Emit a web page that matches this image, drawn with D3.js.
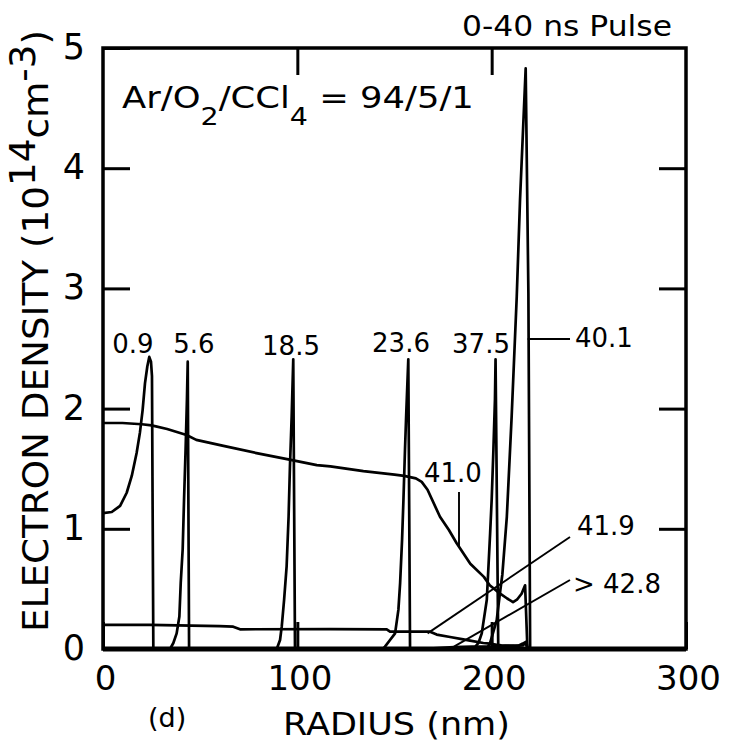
<!DOCTYPE html>
<html><head><meta charset="utf-8">
<script src="https://cdn.jsdelivr.net/npm/d3@7"></script>
<style>
body{margin:0;background:#fff}
svg{display:block}
text{font-family:"DejaVu Sans",sans-serif;fill:#000}
</style>
</head><body>
<svg id="chart" width="730" height="750"></svg>
<script>
// ---------- data ----------
const xTickValues = [0, 100, 200, 300];
const yTickValues = [0, 1, 2, 3, 4, 5];
const timeLabels = ["0.9", "5.6", "18.5", "23.6", "37.5", "40.1", "41.0", "41.9", "> 42.8"];

const radius09  = [0, 4.5, 8.8, 12.2, 14.8, 17.3, 19.0, 20.4, 21.6, 22.8, 23.8, 24.7, 25.2, 25.9];
const density09 = [1.13, 1.14, 1.19, 1.30, 1.44, 1.63, 1.80, 1.99, 2.21, 2.35, 2.43, 2.39, 2.27, 0];

const radius56  = [34.5, 36.2, 37.9, 39.3, 40.0, 41.0, 41.7, 42.5, 43.2, 43.6, 44.3];
const density56 = [0, 0.05, 0.13, 0.27, 0.55, 0.83, 1.24, 1.66, 2.08, 2.39, 0];

const radius185  = [89.4, 91.1, 92.0, 93.2, 94.5, 95.5, 96.2, 97.1, 97.9, 98.8];
const density185 = [0, 0.075, 0.19, 0.41, 0.69, 1.10, 1.52, 1.94, 2.41, 0];

const radius236  = [144, 145.1, 147.7, 150.3, 152.0, 152.9, 153.9, 154.6, 155.4, 156.0, 157.1, 158.0];
const density236 = [0, 0.02, 0.075, 0.13, 0.325, 0.55, 0.91, 1.24, 1.66, 1.94, 2.41, 0];

const radius375  = [190.6, 193.2, 194.9, 197.5, 199.2, 200.0, 200.9, 201.7, 202.0, 203.4];
const density375 = [0, 0.05, 0.13, 0.41, 0.96, 1.24, 1.66, 2.08, 2.41, 0];

const radius401  = [197.5, 199.2, 202.6, 204.3, 205.5, 207.8, 210.3, 212.9, 214.6, 217.5, 218.9, 219.8];
const density401 = [0, 0.05, 0.24, 0.47, 0.62, 1.10, 1.94, 2.93, 3.74, 4.83, 2.96, 0];

const radius410  = [0, 10, 20, 25, 33, 43, 48, 62, 79, 96, 110, 117, 134, 150, 155, 161, 164, 167, 173.4, 178, 182, 189, 196, 199, 204, 208, 211, 213, 215.4, 217.2, 218.4];
const density410 = [1.88, 1.88, 1.87, 1.86, 1.83, 1.78, 1.74, 1.69, 1.63, 1.575, 1.53, 1.52, 1.48, 1.45, 1.44, 1.42, 1.39, 1.325, 1.10, 0.99, 0.88, 0.71, 0.60, 0.53, 0.465, 0.42, 0.39, 0.41, 0.46, 0.53, 0];

const radius419  = [0, 24, 60, 67, 70.5, 117, 146, 147.7, 168, 171.7, 178.6, 185.4, 188.9, 195.7, 199.2, 202.6, 205, 212, 216, 217.5, 218.5];
const density419 = [0.20, 0.20, 0.19, 0.186, 0.164, 0.165, 0.164, 0.145, 0.145, 0.12, 0.10, 0.08, 0.07, 0.05, 0.045, 0.035, 0.03, 0.025, 0.03, 0.05, 0];

const radius428  = [140, 170, 180.6, 190, 200, 205, 214, 216, 217.8, 218.6];
const density428 = [0, 0.005, 0.015, 0.02, 0.022, 0.025, 0.03, 0.045, 0.06, 0];

const series = [
  [radius09, density09], [radius56, density56], [radius185, density185],
  [radius236, density236], [radius375, density375], [radius401, density401],
  [radius410, density410], [radius419, density419], [radius428, density428]
];

// ---------- layout ----------
const L = 103, R = 686, T = 48, B = 649;
const svg = d3.select("#chart");
const x = d3.scaleLinear().domain([0, 300]).range([L, R]);
const y = d3.scaleLinear().domain([0, 5]).range([B, T]);

function stretch(sel, target, x0) {
  const w = sel.node().getBBox().width;
  const k = target / w;
  sel.attr("transform", `translate(${x0},0) scale(${k},1) translate(${-x0},0)`);
}

// curves
const line = d3.line().x(d => x(d[0])).y(d => y(d[1]));
series.forEach(([rs, vs]) => {
  svg.append("path")
    .datum(rs.map((r, i) => [r, vs[i]]))
    .attr("d", line)
    .attr("fill", "none")
    .attr("stroke", "#000")
    .attr("stroke-width", 2.7)
    .attr("stroke-linejoin", "round");
});

// axes (inward ticks)
const tickLen = 27;
function styleAxis(g, fs) {
  g.select(".domain").remove();
  g.selectAll(".tick line").attr("stroke", "#000").attr("stroke-width", 3);
  g.selectAll(".tick text").attr("font-size", fs).attr("font-family", "DejaVu Sans").attr("fill", "#000");
}
svg.append("g").attr("transform", `translate(0,${B})`)
  .call(d3.axisBottom(x).tickValues(xTickValues).tickSize(-tickLen).tickPadding(17).tickFormat(d3.format("d")))
  .call(g => styleAxis(g, 34))
  .call(g => g.selectAll(".tick text").attr("dx", 2));
svg.append("g").attr("transform", `translate(0,${T})`)
  .call(d3.axisTop(x).tickValues([100, 200]).tickSize(-tickLen).tickFormat(""))
  .call(g => styleAxis(g, 34));
svg.append("g").attr("transform", `translate(${L},0)`)
  .call(d3.axisLeft(y).tickValues(yTickValues).tickSize(-tickLen).tickPadding(18).tickFormat(d3.format("d")))
  .call(g => styleAxis(g, 35))
  .call(g => g.selectAll(".tick text").attr("dy", "0.30em"));
svg.append("g").attr("transform", `translate(${R},0)`)
  .call(d3.axisRight(y).tickValues([1, 2, 3, 4]).tickSize(-tickLen).tickFormat(""))
  .call(g => styleAxis(g, 34));

// frame
svg.append("rect").attr("x", L).attr("y", T).attr("width", R - L).attr("height", B - T)
  .attr("fill", "none").attr("stroke", "#000").attr("stroke-width", 3.5);
svg.append("line").attr("x1", L).attr("x2", R).attr("y1", B).attr("y2", B)
  .attr("stroke", "#000").attr("stroke-width", 5);

// peak labels
const lab = (t, px, py, anchor) => svg.append("text").attr("x", px).attr("y", py)
  .attr("font-size", 26).attr("text-anchor", anchor || "middle").text(t);
lab(timeLabels[0], 133, 353);
lab(timeLabels[1], 194, 353);
lab(timeLabels[2], 291, 355);
lab(timeLabels[3], 401, 352);
lab(timeLabels[4], 481, 353);
lab(timeLabels[5], 575, 347, "start");
lab(timeLabels[6], 424, 482, "start");
lab(timeLabels[7], 577, 535, "start");
lab(timeLabels[8], 573, 593, "start");

// leader lines
const leader = (x1, y1, x2, y2) => svg.append("line")
  .attr("x1", x1).attr("y1", y1).attr("x2", x2).attr("y2", y2)
  .attr("stroke", "#000").attr("stroke-width", 1.9);
leader(x(218.5), 339, 570, 339);
leader(459, 492, 459, 547);
leader(x(167), y(0.13), 570, 537);
leader(x(180.6), y(0.02), 570, 580);

// titles
const t1 = svg.append("text").attr("x", 462).attr("y", 36).attr("font-size", 29).text("0-40 ns Pulse");
stretch(t1, 210, 462);

const t2 = svg.append("text").attr("x", 122).attr("y", 108).attr("font-size", 31);
t2.append("tspan").text("Ar/O");
t2.append("tspan").attr("font-size", 25).attr("dy", 17).text("2");
t2.append("tspan").attr("dy", -17).text("/CCl");
t2.append("tspan").attr("font-size", 25).attr("dy", 17).text("4");
t2.append("tspan").attr("dy", -17).text(" = 94/5/1");
stretch(t2, 352, 122);

const t3 = svg.append("text").attr("x", 283).attr("y", 735).attr("font-size", 32).text("RADIUS (nm)");
stretch(t3, 227, 283);

svg.append("text").attr("x", 148).attr("y", 727).attr("font-size", 27).text("(d)");

const yt = svg.append("text").attr("x", 0).attr("y", 0).attr("font-size", 35).attr("text-anchor", "middle");
yt.append("tspan").text("ELECTRON DENSITY (10");
yt.append("tspan").attr("dy", -13).text("14");
yt.append("tspan").attr("dy", 13).text("cm");
yt.append("tspan").attr("dy", -13).text("-3");
yt.append("tspan").attr("dy", 13).text(")");
const yw = yt.node().getBBox().width;
yt.attr("transform", `translate(48,331) rotate(-90) scale(${602 / yw},1)`);
</script>
</body></html>
